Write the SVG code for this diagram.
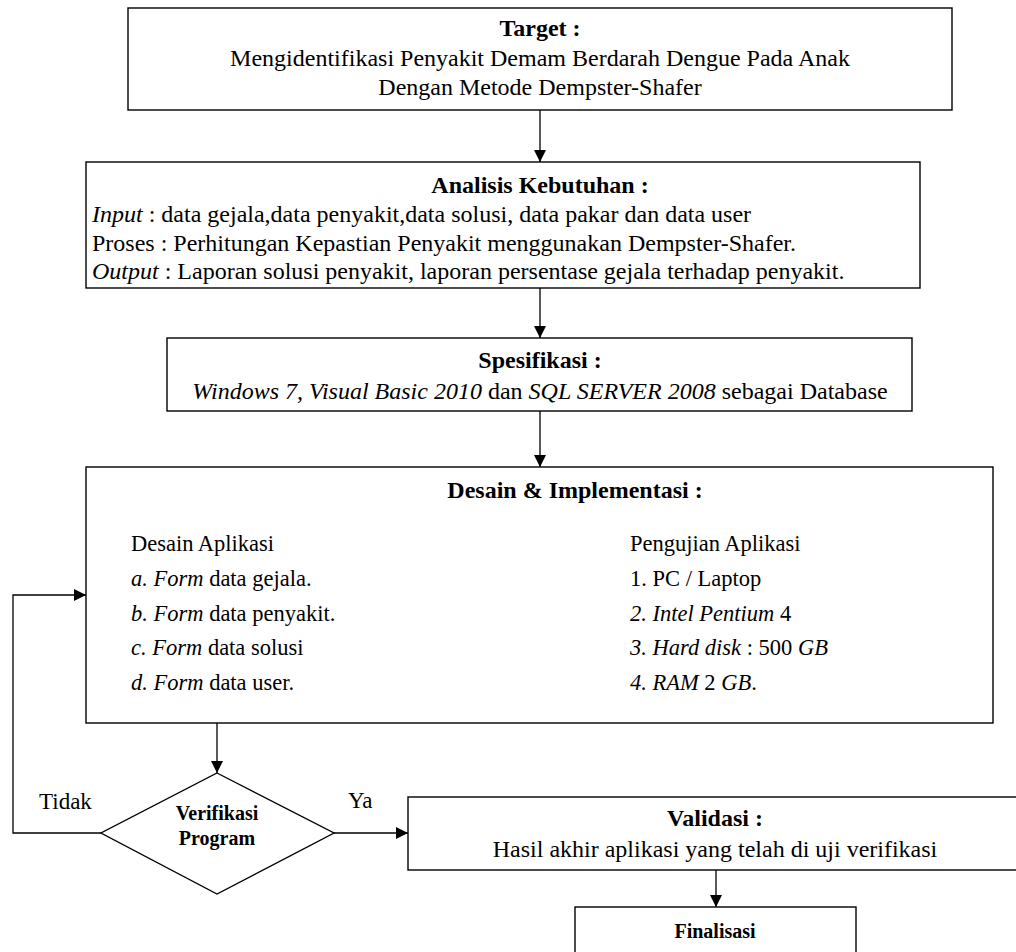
<svg xmlns="http://www.w3.org/2000/svg" width="1016" height="952" viewBox="0 0 1016 952">
<style>
text{font-family:"Liberation Serif","Times New Roman",serif;fill:#000;}
.t{font-size:24px;font-weight:bold;text-anchor:middle;}
.b{font-size:24px;}
.c{text-anchor:middle;}
.s{font-size:22.5px;}
.lb{font-size:23px;}
.sb{font-size:20px;font-weight:bold;text-anchor:middle;}
.i{font-style:italic;}
.box{fill:#fff;stroke:#000;stroke-width:1.4;}
.ln{fill:none;stroke:#000;stroke-width:1.3;}
</style>
<defs>
<marker id="ah" markerUnits="userSpaceOnUse" markerWidth="12" markerHeight="12" refX="12" refY="6" orient="auto">
<path d="M0,0 L12,6 L0,12 z" fill="#000"/>
</marker>
</defs>
<rect width="1016" height="952" fill="#fff"/>
<g id="connectors">
<line class="ln" x1="540" y1="110" x2="540" y2="162" marker-end="url(#ah)"/>
<line class="ln" x1="540" y1="288" x2="540" y2="338" marker-end="url(#ah)"/>
<line class="ln" x1="540" y1="411" x2="540" y2="467" marker-end="url(#ah)"/>
<line class="ln" x1="217" y1="723" x2="217" y2="773" marker-end="url(#ah)"/>
<polyline class="ln" points="101,833 13,833 13,595 86,595" marker-end="url(#ah)"/>
<line class="ln" x1="334" y1="833" x2="408" y2="833" marker-end="url(#ah)"/>
<line class="ln" x1="716" y1="870" x2="716" y2="907" marker-end="url(#ah)"/>
<text class="lb" x="39" y="809">Tidak</text>
<text class="lb" x="348" y="808">Ya</text>
</g>
<g id="target">
<rect class="box" x="128" y="8" width="824" height="102"/>
<text class="t" x="540" y="36">Target :</text>
<text class="b c" x="540" y="66">Mengidentifikasi Penyakit Demam Berdarah Dengue Pada Anak</text>
<text class="b c" x="540" y="95">Dengan Metode Dempster-Shafer</text>
</g>
<g id="analisis">
<rect class="box" x="86" y="162" width="834" height="126"/>
<text class="t" x="540" y="193">Analisis Kebutuhan :</text>
<text class="b" x="92" y="222"><tspan class="i">Input</tspan>  : data gejala,data penyakit,data solusi, data pakar dan data user</text>
<text class="b" x="92" y="251">Proses : Perhitungan Kepastian Penyakit menggunakan Dempster-Shafer.</text>
<text class="b" x="92" y="279"><tspan class="i">Output</tspan> : Laporan solusi penyakit, laporan persentase gejala terhadap penyakit.</text>
</g>
<g id="spesifikasi">
<rect class="box" x="167" y="338" width="745" height="73"/>
<text class="t" x="540" y="368">Spesifikasi :</text>
<text class="b c" x="540" y="399"><tspan class="i">Windows 7, Visual Basic 2010</tspan> dan <tspan class="i">SQL SERVER 2008</tspan> sebagai Database</text>
</g>
<g id="desain">
<rect class="box" x="86" y="467" width="907" height="256"/>
<text class="t" x="575" y="498">Desain &amp; Implementasi :</text>
<text class="s" x="131" y="551">Desain Aplikasi</text>
<text class="s" x="131" y="586"><tspan class="i">a. Form</tspan> data gejala.</text>
<text class="s" x="131" y="621"><tspan class="i">b. Form</tspan> data penyakit.</text>
<text class="s" x="131" y="655"><tspan class="i">c. Form</tspan> data solusi</text>
<text class="s" x="131" y="690"><tspan class="i">d. Form</tspan> data user.</text>
<text class="s" x="630" y="551">Pengujian Aplikasi</text>
<text class="s" x="630" y="586">1. PC / Laptop</text>
<text class="s" x="630" y="621"><tspan class="i">2. Intel Pentium</tspan> 4</text>
<text class="s" x="630" y="655"><tspan class="i">3. Hard disk</tspan> : 500 <tspan class="i">GB</tspan></text>
<text class="s" x="630" y="690"><tspan class="i">4. RAM</tspan> 2 <tspan class="i">GB</tspan>.</text>
</g>
<g id="verifikasi">
<polygon class="box" points="217,773 334,833 217,894 101,833"/>
<text class="sb" x="217" y="820">Verifikasi</text>
<text class="sb" x="217" y="845">Program</text>
</g>
<g id="validasi">
<rect class="box" x="408" y="797" width="620" height="73"/>
<text class="t" x="715" y="826">Validasi :</text>
<text class="b c" x="715" y="857">Hasil akhir aplikasi yang telah di uji verifikasi</text>
</g>
<g id="finalisasi">
<rect class="box" x="575" y="907" width="281" height="60"/>
<text class="sb" x="715" y="938">Finalisasi</text>
</g>
</svg>
